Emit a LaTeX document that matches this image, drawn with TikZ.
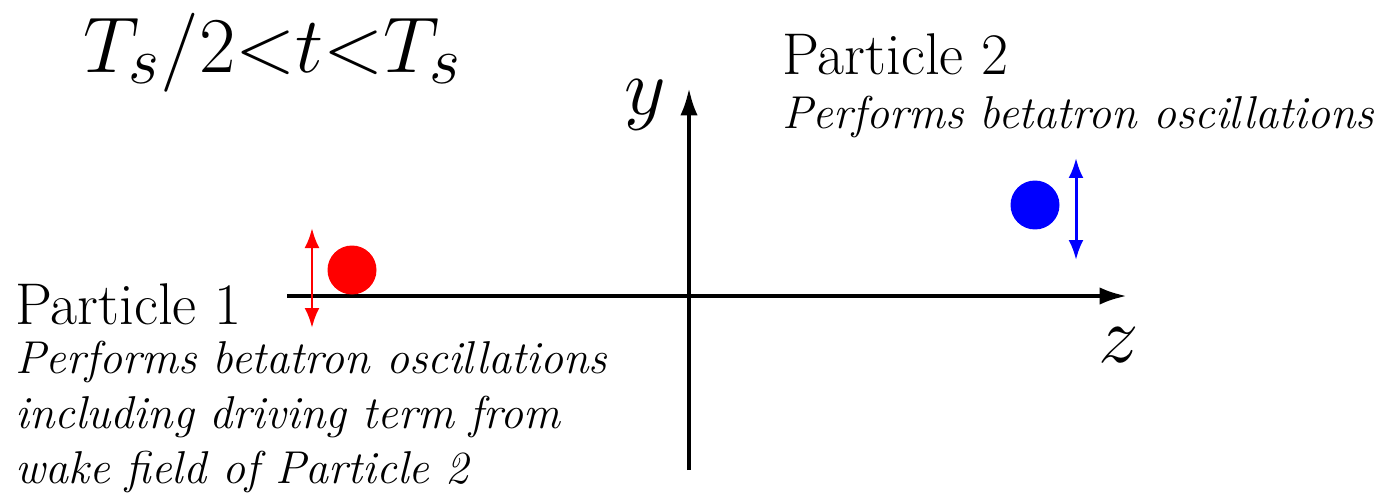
\RequirePackage{fix-cm}
\documentclass[tikz,border=0pt]{standalone}
\usepackage{tikz}
\usetikzlibrary{positioning,arrows.meta}
\usepackage{amsmath,amssymb}
\usepackage{xcolor}
\DeclareMathSizes{45}{45}{38}{30}

\begin{document}
\begin{tikzpicture}[x=0.02cm, y=0.02cm,
    axis/.style={line width=2.3pt,-{Latex[length=0.55cm,width=0.35cm]}},
    osc/.style={line width=1.7pt,{Latex[length=0.4cm,width=0.3cm]}-{Latex[length=0.4cm,width=0.3cm]}},
    bunch/.style={circle,minimum size=0.98cm,inner sep=0pt},
    label/.style={anchor=base west,inner sep=0pt,font=\fontsize{33.5}{40}\selectfont},
    note/.style={anchor=base west,inner sep=0pt,align=left,font=\fontsize{26.2}{31.2}\selectfont\itshape}]
    \useasboundingbox (0,0) rectangle (1382,495);
    % axes
    \coordinate (zs) at (287,199); \coordinate (ze) at (1127,199);
    \coordinate (ys) at (689,25);  \coordinate (ye) at (689,407);
    \draw[axis] (zs) -- (ze);
    \draw[axis] (ys) -- (ye);
    \node (zlab) [anchor=base west,inner sep=0pt,font=\fontsize{46}{50}\selectfont] at (1098,133) {$z$};
    \node (ylab) [anchor=base west,inner sep=0pt,font=\fontsize{46}{50}\selectfont] at (624,381) {$y$};
    \node (time) [anchor=base west,inner sep=0pt,font=\fontsize{45}{50}\selectfont] at (83,423) {$T_s/2{<}t{<}T_s$};
    % particle 1
    \node (p1) [bunch,fill=red] at (352,225) {};
    \coordinate (r1) at (312,267); \coordinate (r2) at (312,167);
    \draw[osc,red] (r1) -- (r2);
    \node (lab1) [label] at (15,171) {Particle 1};
    \node (txt1) [note] at (15,12) {Performs betatron oscillations\\including driving term from\\wake field of Particle 2};
    % particle 2
    \node (p2) [bunch,fill=blue] at (1035,290) {};
    \coordinate (b1) at (1076,337); \coordinate (b2) at (1076,235);
    \draw[osc,blue] (b1) -- (b2);
    \node (lab2) [label] at (782,421) {Particle 2};
    \node (txt2) [note] at (782,367) {Performs betatron oscillations};
\end{tikzpicture}
\end{document}
